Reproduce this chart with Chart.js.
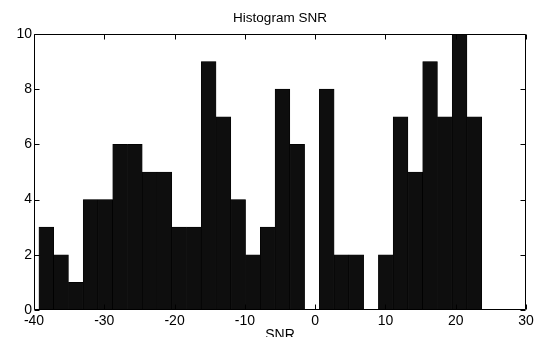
<!DOCTYPE html>
<html>
<head>
<meta charset="utf-8">
<script src="https://cdn.jsdelivr.net/npm/chart.js@4/dist/chart.umd.min.js"></script>
<style>
html,body{margin:0;padding:0;background:#fff;}
#wrap{width:539px;height:337px;position:relative;}
</style>
</head>
<body>
<div id="wrap"><canvas id="c" width="539" height="337"></canvas></div>
<script>
// Histogram bin centres (SNR) and counts
const binCenters = [-38.25, -36.15, -34.05, -31.95, -29.85, -27.75, -25.65, -23.55, -21.45, -19.35,
                    -17.25, -15.15, -13.05, -10.95, -8.85, -6.75, -4.65, -2.55, -0.45, 1.65,
                    3.75, 5.85, 7.95, 10.05, 12.15, 14.25, 16.35, 18.45, 20.55, 22.65];
const counts = [3, 2, 1, 4, 4, 6, 6, 5, 5, 3,
                3, 9, 7, 4, 2, 3, 8, 6, 0, 8,
                2, 2, 0, 2, 7, 5, 9, 7, 10, 7];
const xTicks = [-40, -30, -20, -10, 0, 10, 20, 30];
const yTicks = [0, 2, 4, 6, 8, 10];
const chartTitle = 'Histogram SNR';
const xAxisTitle = 'SNR';

const FONT = '"Liberation Sans", Arial, Helvetica, sans-serif';

const framePlugin = {
  id: 'frame',
  afterDraw(chart) {
    const ctx = chart.ctx;
    const a = chart.chartArea;
    const xs = chart.scales.x, ys = chart.scales.y;
    ctx.save();
    ctx.strokeStyle = '#000';
    ctx.lineWidth = 1;
    const L = Math.round(a.left) + 0.5, R = Math.round(a.right) - 0.5;
    const T = Math.round(a.top) + 0.5, B = Math.round(a.bottom) - 0.5;
    ctx.beginPath();
    ctx.rect(L, T, R - L, B - T);
    ctx.stroke();
    const tl = 5;
    ctx.beginPath();
    xTicks.forEach(v => {
      const px = Math.round(xs.getPixelForValue(v)) + 0.5;
      ctx.moveTo(px, B); ctx.lineTo(px, B - tl);
      ctx.moveTo(px, T); ctx.lineTo(px, T + tl);
    });
    yTicks.forEach(v => {
      const py = Math.round(ys.getPixelForValue(v)) + 0.5;
      ctx.moveTo(L, py); ctx.lineTo(L + tl, py);
      ctx.moveTo(R, py); ctx.lineTo(R - tl, py);
    });
    ctx.stroke();
    // titles
    ctx.fillStyle = '#000';
    ctx.textAlign = 'center';
    ctx.textBaseline = 'middle';
    ctx.font = '13.5px ' + FONT;
    ctx.fillText(chartTitle, (a.left + a.right) / 2, 18);
    ctx.font = '14px ' + FONT;
    ctx.fillText(xAxisTitle, (a.left + a.right) / 2, 335);
    ctx.restore();
  }
};

new Chart(document.getElementById('c'), {
  type: 'bar',
  data: {
    datasets: [{
      data: binCenters.map((x, i) => ({x: x, y: counts[i]})),
      backgroundColor: '#0e0e0e',
      borderColor: '#000',
      borderWidth: 0.6,
      barPercentage: 1,
      categoryPercentage: 1
    }]
  },
  options: {
    responsive: false,
    animation: false,
    devicePixelRatio: 1,
    layout: {padding: {left: 0, right: 13, top: 34, bottom: 0}},
    plugins: {legend: {display: false}, title: {display: false}, tooltip: {enabled: false}},
    scales: {
      x: {
        type: 'linear', min: -40, max: 30, offset: false,
        afterBuildTicks: s => { s.ticks = xTicks.map(v => ({value: v})); },
        afterFit: s => { s.height = 27; },
        grid: {display: false, drawTicks: false, offset: false},
        border: {display: false},
        ticks: {color: '#000', font: {family: FONT, size: 14}, padding: 3, maxRotation: 0, autoSkip: false}
      },
      y: {
        min: 0, max: 10,
        afterBuildTicks: s => { s.ticks = yTicks.map(v => ({value: v})); },
        afterFit: s => { s.width = 34; },
        grid: {display: false, drawTicks: false},
        border: {display: false},
        ticks: {color: '#000', font: {family: FONT, size: 14}, padding: 2, autoSkip: false}
      }
    }
  },
  plugins: [framePlugin]
});
</script>
</body>
</html>
